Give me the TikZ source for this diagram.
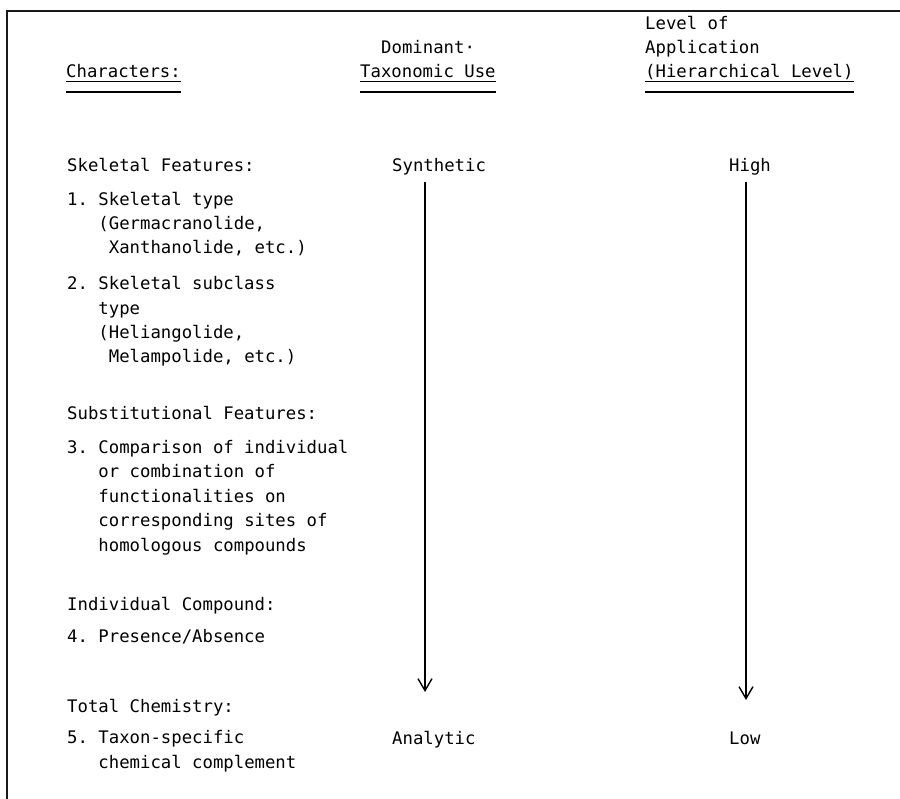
\documentclass[tikz,border=0pt]{standalone}
\usepackage{fontspec}
\setmonofont{DejaVu Sans Mono}
\usetikzlibrary{arrows.meta, positioning}
\newcommand\typefont{\ttfamily\fontsize{17.3}{24.4}\selectfont}
\newcommand\hang{\hphantom{0.~}}
\newcommand\hangp{\hphantom{0.~(}}

\begin{document}
\begin{tikzpicture}[
        x=1pt, y=-1pt,
        label/.style = {anchor=base west, inner sep=0pt, align=left, font=\typefont},
        frame/.style = {line width=2.2pt, black!90},
        uline/.style = {line width=1.3pt},
        arrow/.style = {line width=1.4pt, -{Straight Barb[length=12pt, width=14pt, line width=1.4pt]}}
    ]
        \useasboundingbox (0,0) rectangle (900,799);

        % Frame
        \coordinate (frameB) at (7,799);
        \coordinate (frameC) at (7,11);
        \coordinate (frameR) at (900,11);
        \draw [frame] (frameB) -- (frameC) -- (frameR);

        % Headings (multi-line nodes sit on their last line)
        \node [label] (chars) at (66,78) {Characters:};
        \node [label] (dom) at (381,54) {Dominant·};
        \node [label] (usehead) at (360,78) {Taxonomic Use};
        \node [label] (lev) at (645,54) {Level of\\Application};
        \node [label] (levhead) at (645,78) {(Hierarchical Level)};

        \foreach \h in {chars, usehead, levhead} {
            \draw [uline] ([yshift=-3.5pt]\h.base west) -- ([yshift=-3.5pt]\h.base east);
            \draw [uline] ([yshift=-14pt]\h.base west) -- ([yshift=-14pt]\h.base east);
        }

        % Characters
        \node [label] (skel) at (67,172) {Skeletal Features:};
        \node [label] (item1) at (67,254) {1. Skeletal type\\\hang(Germacranolide,\\\hangp Xanthanolide, etc.)};
        \node [label] (item2) at (67,363) {2. Skeletal subclass\\\hang type\\\hang(Heliangolide,\\\hangp Melampolide, etc.)};
        \node [label] (subst) at (67,420) {Substitutional Features:};
        \node [label] (item3) at (67,551) {3. Comparison of individual\\\hang or combination of\\\hang functionalities on\\\hang corresponding sites of\\\hang homologous compounds};
        \node [label] (indiv) at (67,610) {Individual Compound:};
        \node [label] (item4) at (67,642) {4. Presence/Absence};
        \node [label] (total) at (67,712) {Total Chemistry:};
        \node [label] (item5) at (67,768) {5. Taxon-specific\\\hang chemical complement};

        % Use and level
        \node [label] (synth) at (392,172) {Synthetic};
        \node [label] (anal) at (392,744) {Analytic};
        \node [label] (high) at (729,172) {High};
        \node [label] (low) at (729,744) {Low};

        % Connectors
        \coordinate (useA) at (425,182);
        \coordinate (useB) at (425,692);
        \coordinate (levA) at (746,182);
        \coordinate (levB) at (746,700);
        \draw [arrow] (useA) -- (useB);
        \draw [arrow] (levA) -- (levB);
    \end{tikzpicture}
\end{document}
